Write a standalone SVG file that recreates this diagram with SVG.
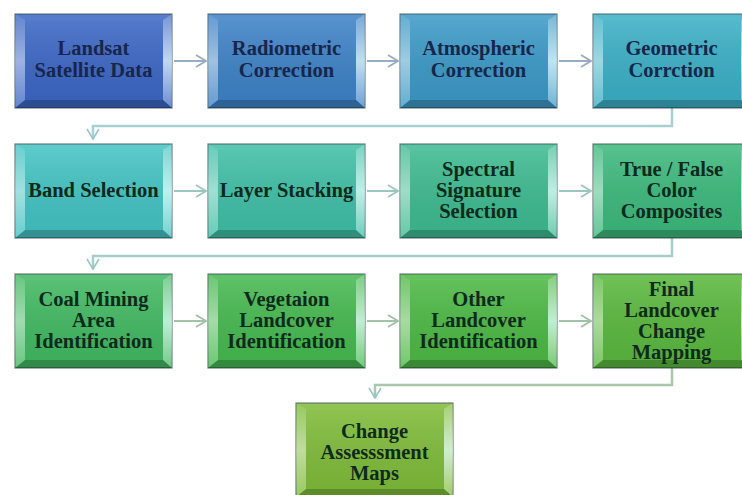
<svg xmlns="http://www.w3.org/2000/svg" xmlns:xlink="http://www.w3.org/1999/xlink" width="742" height="495" viewBox="0 0 742 495">
  <style>
    .box { stroke: rgba(20,40,50,0.6); stroke-width: 1.2; }
    .lbl { font-family: "Liberation Serif", "Times New Roman", serif; font-weight: bold; font-size: 20.5px; text-anchor: middle; }
    .blue { fill: #17264a; }
    .green { fill: #0e2a1c; }
    .flow { fill: none; stroke-width: 2; }
    .elbow { fill: none; stroke-width: 2.5; }
  </style>
  <defs>
    <!-- bevelled face overlay for a 157x94 process box -->
    <linearGradient id="faceSheen" x1="0" y1="0" x2="0" y2="1">
      <stop offset="0" stop-color="#ffffff" stop-opacity="0.12"/>
      <stop offset="1" stop-color="#000000" stop-opacity="0.06"/>
    </linearGradient>
    <linearGradient id="rightEdge" x1="0" y1="0" x2="0" y2="1">
      <stop offset="0" stop-color="#ffffff" stop-opacity="0.3"/>
      <stop offset="0.5" stop-color="#e8ffff" stop-opacity="0.75"/>
      <stop offset="1" stop-color="#ffffff" stop-opacity="0.25"/>
    </linearGradient>
    <linearGradient id="leftEdge" x1="0" y1="0" x2="0" y2="1">
      <stop offset="0" stop-color="#ffffff" stop-opacity="0.2"/>
      <stop offset="0.5" stop-color="#ffffff" stop-opacity="0.5"/>
      <stop offset="1" stop-color="#ffffff" stop-opacity="0.2"/>
    </linearGradient>
    <g id="bevel">
      <rect x="10" y="6" width="138" height="80" fill="url(#faceSheen)"/>
      <polygon points="0,0 10,6 10,86 0,94" fill="url(#leftEdge)"/>
      <polygon points="0,0 157,0 148,6 10,6" fill="#ffffff" fill-opacity="0.14"/>
      <polygon points="157,0 157,94 148,86 148,6" fill="url(#rightEdge)"/>
      <polygon points="0,94 10,86 148,86 157,94" fill="#000000" fill-opacity="0.25"/>
    </g>
    <marker id="chev1" viewBox="0 0 12 14" refX="11" refY="7" markerWidth="12" markerHeight="14" markerUnits="userSpaceOnUse" orient="auto">
      <path d="M1,1 L11,7 L1,13" fill="none" stroke="#98acc4" stroke-width="1.8"/>
    </marker>
    <marker id="chev2" viewBox="0 0 12 14" refX="11" refY="7" markerWidth="12" markerHeight="14" markerUnits="userSpaceOnUse" orient="auto">
      <path d="M1,1 L11,7 L1,13" fill="none" stroke="#9cc6c0" stroke-width="1.8"/>
    </marker>
    <marker id="chev3" viewBox="0 0 12 14" refX="11" refY="7" markerWidth="12" markerHeight="14" markerUnits="userSpaceOnUse" orient="auto">
      <path d="M1,1 L11,7 L1,13" fill="none" stroke="#a0c2a6" stroke-width="1.8"/>
    </marker>
    <marker id="vee" viewBox="0 0 12 14" refX="11" refY="7" markerWidth="12" markerHeight="14" markerUnits="userSpaceOnUse" orient="auto">
      <path d="M1,1 L11,7 L1,13" fill="none" stroke="#98c6c8" stroke-width="1.6"/>
    </marker>
  </defs>

  <rect width="742" height="495" fill="#ffffff"/>

  <g id="connectors">
    <!-- row 1 -->
    <line class="flow" x1="174" y1="61" x2="206" y2="61" stroke="#98acc4" marker-end="url(#chev1)"/>
    <line class="flow" x1="367" y1="61" x2="398" y2="61" stroke="#98acc4" marker-end="url(#chev1)"/>
    <line class="flow" x1="559" y1="61" x2="591" y2="61" stroke="#98acc4" marker-end="url(#chev1)"/>
    <!-- row 1 to row 2 -->
    <path class="elbow" d="M672,108 V126 H93 V139" stroke="#a6d0d2" marker-end="url(#vee)"/>
    <!-- row 2 -->
    <line class="flow" x1="174" y1="191" x2="206" y2="191" stroke="#9cc6c0" marker-end="url(#chev2)"/>
    <line class="flow" x1="367" y1="191" x2="398" y2="191" stroke="#9cc6c0" marker-end="url(#chev2)"/>
    <line class="flow" x1="559" y1="191" x2="591" y2="191" stroke="#9cc6c0" marker-end="url(#chev2)"/>
    <!-- row 2 to row 3 -->
    <path class="elbow" d="M672,238 V256 H93 V269" stroke="#a6cec8" marker-end="url(#vee)"/>
    <!-- row 3 -->
    <line class="flow" x1="174" y1="321" x2="206" y2="321" stroke="#a0c2a6" marker-end="url(#chev3)"/>
    <line class="flow" x1="367" y1="321" x2="398" y2="321" stroke="#a0c2a6" marker-end="url(#chev3)"/>
    <line class="flow" x1="559" y1="321" x2="591" y2="321" stroke="#a0c2a6" marker-end="url(#chev3)"/>
    <!-- row 3 to final map -->
    <path class="elbow" d="M672,368 V385 H375 V398" stroke="#a8c8ac" marker-end="url(#vee)"/>
  </g>

  <!-- row 1 -->
  <g id="landsat">
    <rect class="box" x="15" y="14" width="157" height="94" fill="#3c67c4"/>
    <use xlink:href="#bevel" x="15" y="14"/>
    <text class="lbl blue" x="93.5" y="55">Landsat</text>
    <text class="lbl blue" x="93.5" y="77">Satellite Data</text>
  </g>
  <g id="radiometric">
    <rect class="box" x="208" y="14" width="157" height="94" fill="#3e82c6"/>
    <use xlink:href="#bevel" x="208" y="14"/>
    <text class="lbl blue" x="286.5" y="55">Radiometric</text>
    <text class="lbl blue" x="286.5" y="77">Correction</text>
  </g>
  <g id="atmospheric">
    <rect class="box" x="400" y="14" width="157" height="94" fill="#3c99c6"/>
    <use xlink:href="#bevel" x="400" y="14"/>
    <text class="lbl blue" x="478.5" y="55">Atmospheric</text>
    <text class="lbl blue" x="478.5" y="77">Correction</text>
  </g>
  <g id="geometric">
    <rect class="box" x="593" y="14" width="157" height="94" fill="#3cafc5"/>
    <use xlink:href="#bevel" x="593" y="14"/>
    <text class="lbl blue" x="671.5" y="55">Geometric</text>
    <text class="lbl blue" x="671.5" y="77">Corrction</text>
  </g>

  <!-- row 2 -->
  <g id="band-selection">
    <rect class="box" x="15" y="144" width="157" height="94" fill="#44c2c2"/>
    <use xlink:href="#bevel" x="15" y="144"/>
    <text class="lbl green" x="93.5" y="197">Band Selection</text>
  </g>
  <g id="layer-stacking">
    <rect class="box" x="208" y="144" width="157" height="94" fill="#40bea6"/>
    <use xlink:href="#bevel" x="208" y="144"/>
    <text class="lbl green" x="286.5" y="197">Layer Stacking</text>
  </g>
  <g id="spectral">
    <rect class="box" x="400" y="144" width="157" height="94" fill="#3eba90"/>
    <use xlink:href="#bevel" x="400" y="144"/>
    <text class="lbl green" x="478.5" y="176">Spectral</text>
    <text class="lbl green" x="478.5" y="197">Signature</text>
    <text class="lbl green" x="478.5" y="218">Selection</text>
  </g>
  <g id="composites">
    <rect class="box" x="593" y="144" width="157" height="94" fill="#3db87c"/>
    <use xlink:href="#bevel" x="593" y="144"/>
    <text class="lbl green" x="671.5" y="176">True / False</text>
    <text class="lbl green" x="671.5" y="197">Color</text>
    <text class="lbl green" x="671.5" y="218">Composites</text>
  </g>

  <!-- row 3 -->
  <g id="coal-mining">
    <rect class="box" x="15" y="274" width="157" height="94" fill="#42b862"/>
    <use xlink:href="#bevel" x="15" y="274"/>
    <text class="lbl green" x="93.5" y="306">Coal Mining</text>
    <text class="lbl green" x="93.5" y="327">Area</text>
    <text class="lbl green" x="93.5" y="348">Identification</text>
  </g>
  <g id="vegetation">
    <rect class="box" x="208" y="274" width="157" height="94" fill="#46b850"/>
    <use xlink:href="#bevel" x="208" y="274"/>
    <text class="lbl green" x="286.5" y="306">Vegetaion</text>
    <text class="lbl green" x="286.5" y="327">Landcover</text>
    <text class="lbl green" x="286.5" y="348">Identification</text>
  </g>
  <g id="other-landcover">
    <rect class="box" x="400" y="274" width="157" height="94" fill="#4db845"/>
    <use xlink:href="#bevel" x="400" y="274"/>
    <text class="lbl green" x="478.5" y="306">Other</text>
    <text class="lbl green" x="478.5" y="327">Landcover</text>
    <text class="lbl green" x="478.5" y="348">Identification</text>
  </g>
  <g id="final-mapping">
    <rect class="box" x="593" y="274" width="157" height="94" fill="#5ab73e"/>
    <use xlink:href="#bevel" x="593" y="274"/>
    <text class="lbl green" x="671.5" y="296">Final</text>
    <text class="lbl green" x="671.5" y="317">Landcover</text>
    <text class="lbl green" x="671.5" y="338">Change</text>
    <text class="lbl green" x="671.5" y="359">Mapping</text>
  </g>

  <!-- row 4 -->
  <g id="assessment-maps">
    <rect class="box" x="296" y="403" width="157" height="94" fill="#7fbb3a"/>
    <use xlink:href="#bevel" x="296" y="403"/>
    <text class="lbl green" x="374.5" y="438">Change</text>
    <text class="lbl green" x="374.5" y="459">Assesssment</text>
    <text class="lbl green" x="374.5" y="480">Maps</text>
  </g>
</svg>
